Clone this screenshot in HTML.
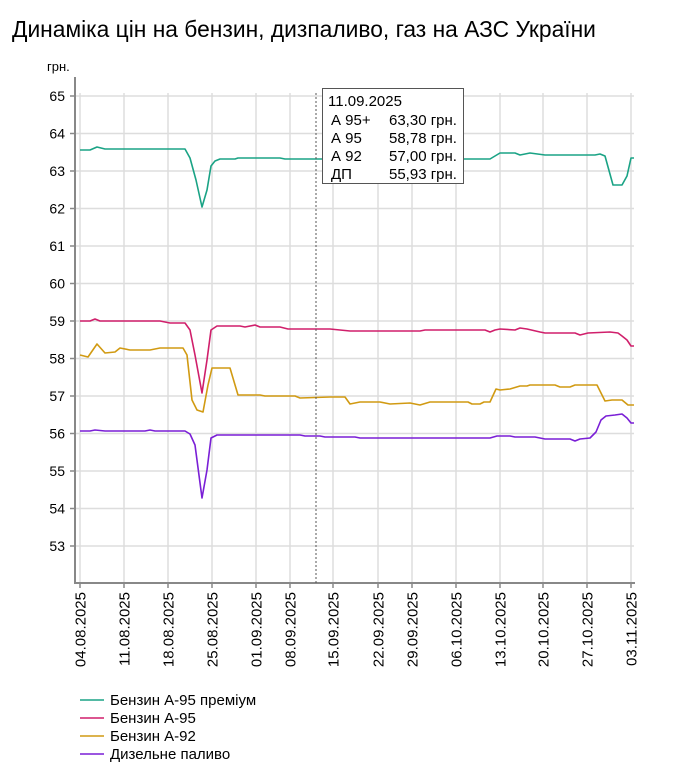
<!DOCTYPE html>
<html><head><meta charset="utf-8"><style>
body{margin:0;background:#fff;}
svg{display:block;font-family:"Liberation Sans",Arial,sans-serif;}
</style></head><body>
<svg width="680" height="773" xmlns="http://www.w3.org/2000/svg">
<text x="12" y="37" font-size="22.8" fill="#000">Динаміка цін на бензин, дизпаливо, газ на АЗС України</text>
<text x="47" y="71" font-size="13" fill="#000">грн.</text>
<g stroke="#ddd" stroke-width="1.5">
<line x1="75" x2="634" y1="96" y2="96"/><line x1="75" x2="634" y1="133.5" y2="133.5"/><line x1="75" x2="634" y1="171" y2="171"/><line x1="75" x2="634" y1="208.5" y2="208.5"/><line x1="75" x2="634" y1="246" y2="246"/><line x1="75" x2="634" y1="283.5" y2="283.5"/><line x1="75" x2="634" y1="321" y2="321"/><line x1="75" x2="634" y1="358.5" y2="358.5"/><line x1="75" x2="634" y1="396" y2="396"/><line x1="75" x2="634" y1="433.5" y2="433.5"/><line x1="75" x2="634" y1="471" y2="471"/><line x1="75" x2="634" y1="508.5" y2="508.5"/><line x1="75" x2="634" y1="546" y2="546"/>
<line x1="80" x2="80" y1="93" y2="583"/><line x1="124" x2="124" y1="93" y2="583"/><line x1="168" x2="168" y1="93" y2="583"/><line x1="212" x2="212" y1="93" y2="583"/><line x1="256" x2="256" y1="93" y2="583"/><line x1="290" x2="290" y1="93" y2="583"/><line x1="333" x2="333" y1="93" y2="583"/><line x1="378" x2="378" y1="93" y2="583"/><line x1="412" x2="412" y1="93" y2="583"/><line x1="456" x2="456" y1="93" y2="583"/><line x1="500" x2="500" y1="93" y2="583"/><line x1="543" x2="543" y1="93" y2="583"/><line x1="587" x2="587" y1="93" y2="583"/><line x1="631" x2="631" y1="93" y2="583"/>
</g>
<g stroke="#888" stroke-width="2" fill="none">
<line x1="75" y1="77" x2="75" y2="583"/><line x1="74" y1="583" x2="635" y2="583"/>
</g>
<g stroke="#888" stroke-width="1.5">
<line x1="70" x2="75" y1="96" y2="96"/><line x1="70" x2="75" y1="133.5" y2="133.5"/><line x1="70" x2="75" y1="171" y2="171"/><line x1="70" x2="75" y1="208.5" y2="208.5"/><line x1="70" x2="75" y1="246" y2="246"/><line x1="70" x2="75" y1="283.5" y2="283.5"/><line x1="70" x2="75" y1="321" y2="321"/><line x1="70" x2="75" y1="358.5" y2="358.5"/><line x1="70" x2="75" y1="396" y2="396"/><line x1="70" x2="75" y1="433.5" y2="433.5"/><line x1="70" x2="75" y1="471" y2="471"/><line x1="70" x2="75" y1="508.5" y2="508.5"/><line x1="70" x2="75" y1="546" y2="546"/>
<line x1="80" x2="80" y1="583" y2="588"/><line x1="124" x2="124" y1="583" y2="588"/><line x1="168" x2="168" y1="583" y2="588"/><line x1="212" x2="212" y1="583" y2="588"/><line x1="256" x2="256" y1="583" y2="588"/><line x1="290" x2="290" y1="583" y2="588"/><line x1="333" x2="333" y1="583" y2="588"/><line x1="378" x2="378" y1="583" y2="588"/><line x1="412" x2="412" y1="583" y2="588"/><line x1="456" x2="456" y1="583" y2="588"/><line x1="500" x2="500" y1="583" y2="588"/><line x1="543" x2="543" y1="583" y2="588"/><line x1="587" x2="587" y1="583" y2="588"/><line x1="631" x2="631" y1="583" y2="588"/>
</g>
<g font-size="14" text-anchor="end" fill="#000">
<text x="65" y="101">65</text><text x="65" y="138.5">64</text><text x="65" y="176">63</text><text x="65" y="213.5">62</text><text x="65" y="251">61</text><text x="65" y="288.5">60</text><text x="65" y="326">59</text><text x="65" y="363.5">58</text><text x="65" y="401">57</text><text x="65" y="438.5">56</text><text x="65" y="476">55</text><text x="65" y="513.5">54</text><text x="65" y="551">53</text>
</g>
<g font-size="15" text-anchor="end" fill="#000">
<text transform="translate(85.5,592) rotate(-90)">04.08.2025</text>
<text transform="translate(129.5,592) rotate(-90)">11.08.2025</text>
<text transform="translate(173.5,592) rotate(-90)">18.08.2025</text>
<text transform="translate(217.5,592) rotate(-90)">25.08.2025</text>
<text transform="translate(261.5,592) rotate(-90)">01.09.2025</text>
<text transform="translate(295.5,592) rotate(-90)">08.09.2025</text>
<text transform="translate(338.5,592) rotate(-90)">15.09.2025</text>
<text transform="translate(383.5,592) rotate(-90)">22.09.2025</text>
<text transform="translate(417.5,592) rotate(-90)">29.09.2025</text>
<text transform="translate(461.5,592) rotate(-90)">06.10.2025</text>
<text transform="translate(505.5,592) rotate(-90)">13.10.2025</text>
<text transform="translate(548.5,592) rotate(-90)">20.10.2025</text>
<text transform="translate(592.5,592) rotate(-90)">27.10.2025</text>
<text transform="translate(636.5,592) rotate(-90)">03.11.2025</text>
</g>
<g fill="none" stroke-width="1.6" stroke-linejoin="round">
<polyline stroke="#1aa385" points="80,150 90,150 97,147 105,149 185,149 190,158 196,180 202,207 207,190 211,166 215,161 220,159 235,159 238,158 280,158 285,159 490,159 500,153 515,153 520,155 530,153 545,155 560,155 595,155 600,154 605,156 613,185 622,185 627,176 631,158 634,158"/>
<polyline stroke="#d01f6b" points="80,321 90,321 95,319 100,321 160,321 170,323 185,323 190,330 195,355 202,393 207,360 211,330 217,326 240,326 245,327 255,325 260,327 280,327 288,329 330,329 350,331 420,331 425,330 485,330 490,332 495,330 500,329 515,330 520,328 527,329 540,332 545,333 575,333 580,335 588,333 610,332 618,333 622,336 627,340 631,346 634,346"/>
<polyline stroke="#d19a12" points="80,355 88,357 97,344 105,353 115,352 120,348 130,350 150,350 160,348 183,348 187,355 192,400 197,410 203,412 208,385 212,368 230,368 238,395 260,395 265,396 295,396 300,398 330,397 345,397 350,404 360,402 380,402 390,404 410,403 420,405 430,402 468,402 472,404 480,404 484,402 490,402 496,389 500,390 510,389 520,386 527,386 530,385 555,385 560,387 570,387 575,385 597,385 605,401 612,400 622,400 628,405 634,405"/>
<polyline stroke="#7a1fd6" points="80,431 90,431 95,430 105,431 145,431 150,430 155,431 185,431 190,434 195,445 202,498 207,470 211,438 217,435 300,435 305,436 320,436 325,437 355,437 360,438 490,438 497,436 510,436 515,437 535,437 545,439 570,439 575,441 580,439 590,438 596,432 601,420 606,416 615,415 622,414 627,418 631,423 634,423"/>
</g>
<line x1="316" y1="93" x2="316" y2="583" stroke="#555" stroke-width="1" stroke-dasharray="2,2"/>
<rect x="322.5" y="88.5" width="141" height="95" fill="#fff" stroke="#555" stroke-width="1"/>
<g font-size="15" fill="#000">
<text x="328" y="106">11.09.2025</text>
<text x="331" y="125">А 95+</text><text x="389" y="125">63,30 грн.</text>
<text x="331" y="143">А 95</text><text x="389" y="143">58,78 грн.</text>
<text x="331" y="161">А 92</text><text x="389" y="161">57,00 грн.</text>
<text x="331" y="179">ДП</text><text x="389" y="179">55,93 грн.</text>
</g>
<g stroke-width="1.6">
<line x1="80" x2="104" y1="700" y2="700" stroke="#1aa385"/>
<line x1="80" x2="104" y1="718" y2="718" stroke="#d01f6b"/>
<line x1="80" x2="104" y1="736" y2="736" stroke="#d19a12"/>
<line x1="80" x2="104" y1="754" y2="754" stroke="#7a1fd6"/>
</g>
<g font-size="15" fill="#000">
<text x="110" y="705">Бензин А-95 преміум</text>
<text x="110" y="723">Бензин А-95</text>
<text x="110" y="741">Бензин А-92</text>
<text x="110" y="759">Дизельне паливо</text>
</g>
</svg>
</body></html>
